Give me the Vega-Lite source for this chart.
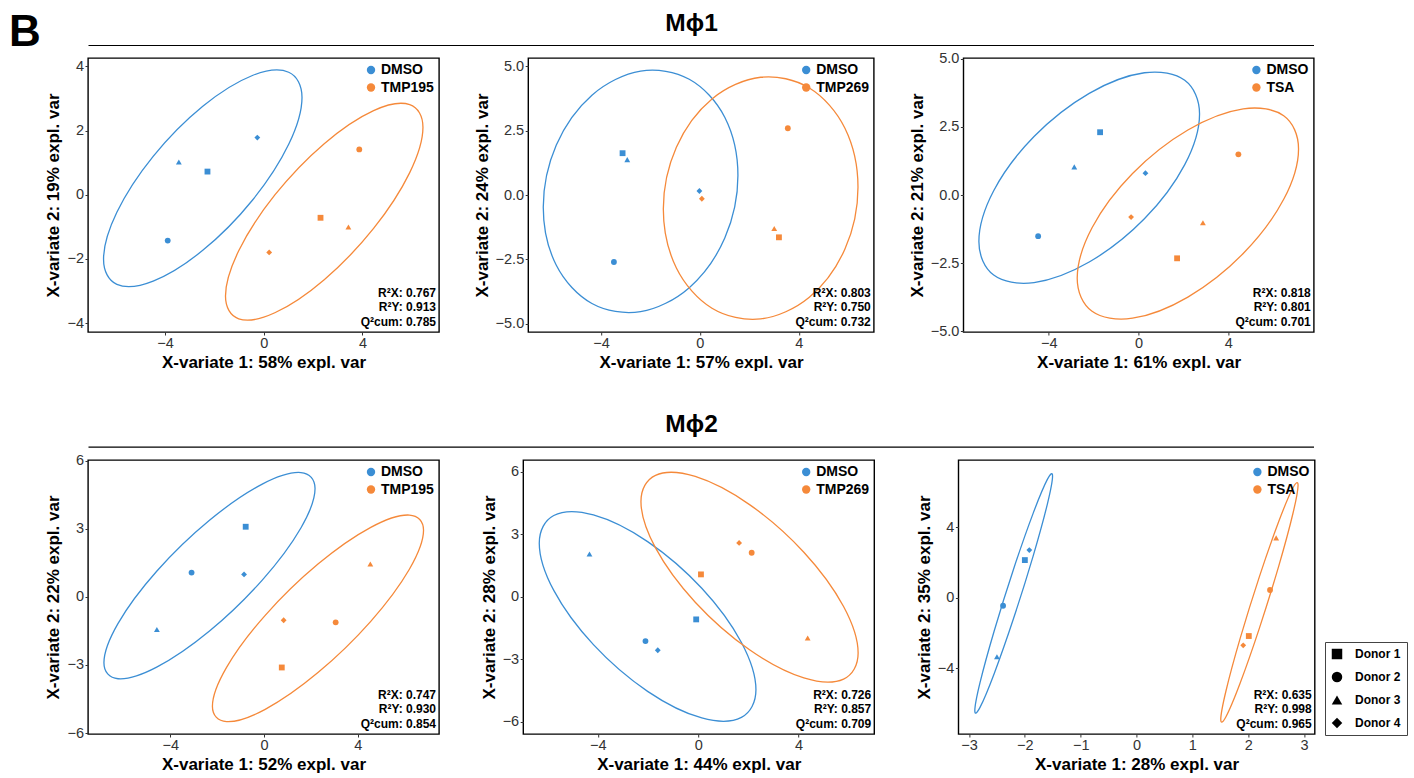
{
  "$schema": "https://vega.github.io/schema/vega-lite/v6.json",
  "background": "white",
  "padding": {"left": 8, "top": 10, "right": 6, "bottom": 2},
  "spacing": -7,
  "config": {
    "font": "Liberation Sans",
    "view": {"stroke": "black", "strokeWidth": 1.4},
    "axis": {"grid": false, "domain": false, "ticks": true, "tickSize": 3, "tickColor": "#333", "tickWidth": 1, "labelFont": "Liberation Sans", "labelFontSize": 14.5, "labelColor": "#333", "labelPadding": 1.5, "labelFlush": false, "titleFont": "Liberation Sans", "titleFontSize": 17, "titleFontWeight": "bold", "titleColor": "black", "titlePadding": 4},
    "legend": {"labelFont": "Liberation Sans", "labelColor": "black"},
    "text": {"font": "Liberation Sans", "color": "black"}
  },
  "resolve": {"scale": {"x": "independent", "y": "independent", "color": "independent", "shape": "independent"}, "legend": {"color": "independent", "shape": "independent"}},
  "datasets": {
    "pts": [
      {"panel": 1, "group": "DMSO", "donor": "Donor 1", "x": -2.28, "y": 0.72},
      {"panel": 1, "group": "DMSO", "donor": "Donor 2", "x": -3.89, "y": -1.43},
      {"panel": 1, "group": "DMSO", "donor": "Donor 3", "x": -3.44, "y": 1.02},
      {"panel": 1, "group": "DMSO", "donor": "Donor 4", "x": -0.26, "y": 1.78},
      {"panel": 1, "group": "TMP195", "donor": "Donor 1", "x": 2.30, "y": -0.72},
      {"panel": 1, "group": "TMP195", "donor": "Donor 2", "x": 3.87, "y": 1.41},
      {"panel": 1, "group": "TMP195", "donor": "Donor 3", "x": 3.43, "y": -1.01},
      {"panel": 1, "group": "TMP195", "donor": "Donor 4", "x": 0.22, "y": -1.80},
      {"panel": 2, "group": "DMSO", "donor": "Donor 1", "x": -3.13, "y": 1.63},
      {"panel": 2, "group": "DMSO", "donor": "Donor 2", "x": -3.48, "y": -2.60},
      {"panel": 2, "group": "DMSO", "donor": "Donor 3", "x": -2.94, "y": 1.38},
      {"panel": 2, "group": "DMSO", "donor": "Donor 4", "x": -0.02, "y": 0.16},
      {"panel": 2, "group": "TMP269", "donor": "Donor 1", "x": 3.20, "y": -1.64},
      {"panel": 2, "group": "TMP269", "donor": "Donor 2", "x": 3.56, "y": 2.60},
      {"panel": 2, "group": "TMP269", "donor": "Donor 3", "x": 3.01, "y": -1.30},
      {"panel": 2, "group": "TMP269", "donor": "Donor 4", "x": 0.08, "y": -0.14},
      {"panel": 3, "group": "DMSO", "donor": "Donor 1", "x": -1.71, "y": 2.30},
      {"panel": 3, "group": "DMSO", "donor": "Donor 2", "x": -4.47, "y": -1.51},
      {"panel": 3, "group": "DMSO", "donor": "Donor 3", "x": -2.86, "y": 1.03},
      {"panel": 3, "group": "DMSO", "donor": "Donor 4", "x": 0.31, "y": 0.80},
      {"panel": 3, "group": "TSA", "donor": "Donor 1", "x": 1.72, "y": -2.32},
      {"panel": 3, "group": "TSA", "donor": "Donor 2", "x": 4.45, "y": 1.49},
      {"panel": 3, "group": "TSA", "donor": "Donor 3", "x": 2.87, "y": -1.02},
      {"panel": 3, "group": "TSA", "donor": "Donor 4", "x": -0.33, "y": -0.81},
      {"panel": 4, "group": "DMSO", "donor": "Donor 1", "x": -0.78, "y": 3.09},
      {"panel": 4, "group": "DMSO", "donor": "Donor 2", "x": -3.09, "y": 1.07},
      {"panel": 4, "group": "DMSO", "donor": "Donor 3", "x": -4.57, "y": -1.44},
      {"panel": 4, "group": "DMSO", "donor": "Donor 4", "x": -0.85, "y": 0.99},
      {"panel": 4, "group": "TMP195", "donor": "Donor 1", "x": 0.76, "y": -3.11},
      {"panel": 4, "group": "TMP195", "donor": "Donor 2", "x": 3.06, "y": -1.12},
      {"panel": 4, "group": "TMP195", "donor": "Donor 3", "x": 4.54, "y": 1.45},
      {"panel": 4, "group": "TMP195", "donor": "Donor 4", "x": 0.84, "y": -1.03},
      {"panel": 5, "group": "DMSO", "donor": "Donor 1", "x": -0.08, "y": -1.09},
      {"panel": 5, "group": "DMSO", "donor": "Donor 2", "x": -2.10, "y": -2.13},
      {"panel": 5, "group": "DMSO", "donor": "Donor 3", "x": -4.33, "y": 2.05},
      {"panel": 5, "group": "DMSO", "donor": "Donor 4", "x": -1.61, "y": -2.57},
      {"panel": 5, "group": "TMP269", "donor": "Donor 1", "x": 0.11, "y": 1.07},
      {"panel": 5, "group": "TMP269", "donor": "Donor 2", "x": 2.13, "y": 2.11},
      {"panel": 5, "group": "TMP269", "donor": "Donor 3", "x": 4.36, "y": -1.98},
      {"panel": 5, "group": "TMP269", "donor": "Donor 4", "x": 1.63, "y": 2.58},
      {"panel": 6, "group": "DMSO", "donor": "Donor 1", "x": -2.00, "y": 2.14},
      {"panel": 6, "group": "DMSO", "donor": "Donor 2", "x": -2.39, "y": -0.45},
      {"panel": 6, "group": "DMSO", "donor": "Donor 3", "x": -2.50, "y": -3.35},
      {"panel": 6, "group": "DMSO", "donor": "Donor 4", "x": -1.92, "y": 2.71},
      {"panel": 6, "group": "TSA", "donor": "Donor 1", "x": 2.01, "y": -2.17},
      {"panel": 6, "group": "TSA", "donor": "Donor 2", "x": 2.39, "y": 0.44},
      {"panel": 6, "group": "TSA", "donor": "Donor 3", "x": 2.50, "y": 3.40},
      {"panel": 6, "group": "TSA", "donor": "Donor 4", "x": 1.91, "y": -2.70}
    ],
    "ell": [
      {"panel": 1, "group": "DMSO", "i": 0, "x": 1.55, "y": 3.03},
      {"panel": 1, "group": "DMSO", "i": 1, "x": 1.011, "y": 3.815},
      {"panel": 1, "group": "DMSO", "i": 2, "x": -0.46, "y": 3.714},
      {"panel": 1, "group": "DMSO", "i": 3, "x": -2.47, "y": 2.755},
      {"panel": 1, "group": "DMSO", "i": 4, "x": -4.48, "y": 1.194},
      {"panel": 1, "group": "DMSO", "i": 5, "x": -5.951, "y": -0.55},
      {"panel": 1, "group": "DMSO", "i": 6, "x": -6.49, "y": -2.01},
      {"panel": 1, "group": "DMSO", "i": 7, "x": -5.951, "y": -2.795},
      {"panel": 1, "group": "DMSO", "i": 8, "x": -4.48, "y": -2.694},
      {"panel": 1, "group": "DMSO", "i": 9, "x": -2.47, "y": -1.735},
      {"panel": 1, "group": "DMSO", "i": 10, "x": -0.46, "y": -0.174},
      {"panel": 1, "group": "DMSO", "i": 11, "x": 1.011, "y": 1.57},
      {"panel": 1, "group": "TMP195", "i": 0, "x": 6.45, "y": 2.10},
      {"panel": 1, "group": "TMP195", "i": 1, "x": 5.914, "y": 2.808},
      {"panel": 1, "group": "TMP195", "i": 2, "x": 4.45, "y": 2.621},
      {"panel": 1, "group": "TMP195", "i": 3, "x": 2.45, "y": 1.59},
      {"panel": 1, "group": "TMP195", "i": 4, "x": 0.45, "y": -0.009},
      {"panel": 1, "group": "TMP195", "i": 5, "x": -1.014, "y": -1.748},
      {"panel": 1, "group": "TMP195", "i": 6, "x": -1.55, "y": -3.16},
      {"panel": 1, "group": "TMP195", "i": 7, "x": -1.014, "y": -3.868},
      {"panel": 1, "group": "TMP195", "i": 8, "x": 0.45, "y": -3.681},
      {"panel": 1, "group": "TMP195", "i": 9, "x": 2.45, "y": -2.65},
      {"panel": 1, "group": "TMP195", "i": 10, "x": 4.45, "y": -1.051},
      {"panel": 1, "group": "TMP195", "i": 11, "x": 5.914, "y": 0.688},
      {"panel": 2, "group": "DMSO", "i": 0, "x": 1.54, "y": 0.76},
      {"panel": 2, "group": "DMSO", "i": 1, "x": 1.012, "y": 3.016},
      {"panel": 2, "group": "DMSO", "i": 2, "x": -0.43, "y": 4.502},
      {"panel": 2, "group": "DMSO", "i": 3, "x": -2.40, "y": 4.82},
      {"panel": 2, "group": "DMSO", "i": 4, "x": -4.37, "y": 3.886},
      {"panel": 2, "group": "DMSO", "i": 5, "x": -5.812, "y": 1.95},
      {"panel": 2, "group": "DMSO", "i": 6, "x": -6.34, "y": -0.47},
      {"panel": 2, "group": "DMSO", "i": 7, "x": -5.812, "y": -2.726},
      {"panel": 2, "group": "DMSO", "i": 8, "x": -4.37, "y": -4.212},
      {"panel": 2, "group": "DMSO", "i": 9, "x": -2.40, "y": -4.53},
      {"panel": 2, "group": "DMSO", "i": 10, "x": -0.43, "y": -3.596},
      {"panel": 2, "group": "DMSO", "i": 11, "x": 1.012, "y": -1.66},
      {"panel": 2, "group": "TMP269", "i": 0, "x": 6.40, "y": 0.31},
      {"panel": 2, "group": "TMP269", "i": 1, "x": 5.872, "y": 2.601},
      {"panel": 2, "group": "TMP269", "i": 2, "x": 4.43, "y": 4.165},
      {"panel": 2, "group": "TMP269", "i": 3, "x": 2.46, "y": 4.581},
      {"panel": 2, "group": "TMP269", "i": 4, "x": 0.49, "y": 3.74},
      {"panel": 2, "group": "TMP269", "i": 5, "x": -0.952, "y": 1.865},
      {"panel": 2, "group": "TMP269", "i": 6, "x": -1.48, "y": -0.54},
      {"panel": 2, "group": "TMP269", "i": 7, "x": -0.952, "y": -2.831},
      {"panel": 2, "group": "TMP269", "i": 8, "x": 0.49, "y": -4.395},
      {"panel": 2, "group": "TMP269", "i": 9, "x": 2.46, "y": -4.811},
      {"panel": 2, "group": "TMP269", "i": 10, "x": 4.43, "y": -3.97},
      {"panel": 2, "group": "TMP269", "i": 11, "x": 5.872, "y": -2.095},
      {"panel": 3, "group": "DMSO", "i": 0, "x": 2.72, "y": 2.97},
      {"panel": 3, "group": "DMSO", "i": 1, "x": 2.061, "y": 4.202},
      {"panel": 3, "group": "DMSO", "i": 2, "x": 0.263, "y": 4.479},
      {"panel": 3, "group": "DMSO", "i": 3, "x": -2.195, "y": 3.725},
      {"panel": 3, "group": "DMSO", "i": 4, "x": -4.653, "y": 2.143},
      {"panel": 3, "group": "DMSO", "i": 5, "x": -6.451, "y": 0.158},
      {"panel": 3, "group": "DMSO", "i": 6, "x": -7.11, "y": -1.70},
      {"panel": 3, "group": "DMSO", "i": 7, "x": -6.451, "y": -2.932},
      {"panel": 3, "group": "DMSO", "i": 8, "x": -4.653, "y": -3.209},
      {"panel": 3, "group": "DMSO", "i": 9, "x": -2.195, "y": -2.455},
      {"panel": 3, "group": "DMSO", "i": 10, "x": 0.263, "y": -0.873},
      {"panel": 3, "group": "DMSO", "i": 11, "x": 2.061, "y": 1.112},
      {"panel": 3, "group": "TSA", "i": 0, "x": 7.13, "y": 1.69},
      {"panel": 3, "group": "TSA", "i": 1, "x": 6.469, "y": 2.902},
      {"panel": 3, "group": "TSA", "i": 2, "x": 4.665, "y": 3.155},
      {"panel": 3, "group": "TSA", "i": 3, "x": 2.20, "y": 2.38},
      {"panel": 3, "group": "TSA", "i": 4, "x": -0.265, "y": 0.785},
      {"panel": 3, "group": "TSA", "i": 5, "x": -2.069, "y": -1.202},
      {"panel": 3, "group": "TSA", "i": 6, "x": -2.73, "y": -3.05},
      {"panel": 3, "group": "TSA", "i": 7, "x": -2.069, "y": -4.262},
      {"panel": 3, "group": "TSA", "i": 8, "x": -0.265, "y": -4.515},
      {"panel": 3, "group": "TSA", "i": 9, "x": 2.20, "y": -3.74},
      {"panel": 3, "group": "TSA", "i": 10, "x": 4.665, "y": -2.145},
      {"panel": 3, "group": "TSA", "i": 11, "x": 6.469, "y": -0.158},
      {"panel": 4, "group": "DMSO", "i": 0, "x": 2.18, "y": 4.77},
      {"panel": 4, "group": "DMSO", "i": 1, "x": 1.576, "y": 5.476},
      {"panel": 4, "group": "DMSO", "i": 2, "x": -0.073, "y": 4.966},
      {"panel": 4, "group": "DMSO", "i": 3, "x": -2.325, "y": 3.375},
      {"panel": 4, "group": "DMSO", "i": 4, "x": -4.578, "y": 1.13},
      {"panel": 4, "group": "DMSO", "i": 5, "x": -6.226, "y": -1.166},
      {"panel": 4, "group": "DMSO", "i": 6, "x": -6.83, "y": -2.90},
      {"panel": 4, "group": "DMSO", "i": 7, "x": -6.226, "y": -3.606},
      {"panel": 4, "group": "DMSO", "i": 8, "x": -4.578, "y": -3.096},
      {"panel": 4, "group": "DMSO", "i": 9, "x": -2.325, "y": -1.505},
      {"panel": 4, "group": "DMSO", "i": 10, "x": -0.073, "y": 0.74},
      {"panel": 4, "group": "DMSO", "i": 11, "x": 1.576, "y": 3.036},
      {"panel": 4, "group": "TMP195", "i": 0, "x": 6.81, "y": 2.93},
      {"panel": 4, "group": "TMP195", "i": 1, "x": 6.206, "y": 3.606},
      {"panel": 4, "group": "TMP195", "i": 2, "x": 4.558, "y": 3.063},
      {"panel": 4, "group": "TMP195", "i": 3, "x": 2.305, "y": 1.445},
      {"panel": 4, "group": "TMP195", "i": 4, "x": 0.053, "y": -0.813},
      {"panel": 4, "group": "TMP195", "i": 5, "x": -1.596, "y": -3.106},
      {"panel": 4, "group": "TMP195", "i": 6, "x": -2.20, "y": -4.82},
      {"panel": 4, "group": "TMP195", "i": 7, "x": -1.596, "y": -5.496},
      {"panel": 4, "group": "TMP195", "i": 8, "x": 0.053, "y": -4.953},
      {"panel": 4, "group": "TMP195", "i": 9, "x": 2.305, "y": -3.335},
      {"panel": 4, "group": "TMP195", "i": 10, "x": 4.558, "y": -1.078},
      {"panel": 4, "group": "TMP195", "i": 11, "x": 6.206, "y": 1.216},
      {"panel": 5, "group": "DMSO", "i": 0, "x": 2.30, "y": -4.47},
      {"panel": 5, "group": "DMSO", "i": 1, "x": 1.722, "y": -2.201},
      {"panel": 5, "group": "DMSO", "i": 2, "x": 0.143, "y": 0.402},
      {"panel": 5, "group": "DMSO", "i": 3, "x": -2.015, "y": 2.643},
      {"panel": 5, "group": "DMSO", "i": 4, "x": -4.173, "y": 3.922},
      {"panel": 5, "group": "DMSO", "i": 5, "x": -5.752, "y": 3.895},
      {"panel": 5, "group": "DMSO", "i": 6, "x": -6.33, "y": 2.57},
      {"panel": 5, "group": "DMSO", "i": 7, "x": -5.752, "y": 0.301},
      {"panel": 5, "group": "DMSO", "i": 8, "x": -4.173, "y": -2.302},
      {"panel": 5, "group": "DMSO", "i": 9, "x": -2.015, "y": -4.543},
      {"panel": 5, "group": "DMSO", "i": 10, "x": 0.143, "y": -5.822},
      {"panel": 5, "group": "DMSO", "i": 11, "x": 1.722, "y": -5.795},
      {"panel": 5, "group": "TMP269", "i": 0, "x": 6.37, "y": -2.70},
      {"panel": 5, "group": "TMP269", "i": 1, "x": 5.79, "y": -0.471},
      {"panel": 5, "group": "TMP269", "i": 2, "x": 4.208, "y": 2.135},
      {"panel": 5, "group": "TMP269", "i": 3, "x": 2.045, "y": 4.419},
      {"panel": 5, "group": "TMP269", "i": 4, "x": -0.118, "y": 5.77},
      {"panel": 5, "group": "TMP269", "i": 5, "x": -1.70, "y": 5.825},
      {"panel": 5, "group": "TMP269", "i": 6, "x": -2.28, "y": 4.57},
      {"panel": 5, "group": "TMP269", "i": 7, "x": -1.70, "y": 2.341},
      {"panel": 5, "group": "TMP269", "i": 8, "x": -0.118, "y": -0.265},
      {"panel": 5, "group": "TMP269", "i": 9, "x": 2.045, "y": -2.549},
      {"panel": 5, "group": "TMP269", "i": 10, "x": 4.208, "y": -3.90},
      {"panel": 5, "group": "TMP269", "i": 11, "x": 5.79, "y": -3.955},
      {"panel": 6, "group": "DMSO", "i": 0, "x": -1.504, "y": 6.91},
      {"panel": 6, "group": "DMSO", "i": 1, "x": -1.597, "y": 6.718},
      {"panel": 6, "group": "DMSO", "i": 2, "x": -1.852, "y": 4.792},
      {"panel": 6, "group": "DMSO", "i": 3, "x": -2.20, "y": 1.65},
      {"panel": 6, "group": "DMSO", "i": 4, "x": -2.548, "y": -1.868},
      {"panel": 6, "group": "DMSO", "i": 5, "x": -2.803, "y": -4.818},
      {"panel": 6, "group": "DMSO", "i": 6, "x": -2.896, "y": -6.41},
      {"panel": 6, "group": "DMSO", "i": 7, "x": -2.803, "y": -6.218},
      {"panel": 6, "group": "DMSO", "i": 8, "x": -2.548, "y": -4.292},
      {"panel": 6, "group": "DMSO", "i": 9, "x": -2.20, "y": -1.15},
      {"panel": 6, "group": "DMSO", "i": 10, "x": -1.852, "y": 2.368},
      {"panel": 6, "group": "DMSO", "i": 11, "x": -1.597, "y": 5.318},
      {"panel": 6, "group": "TSA", "i": 0, "x": 2.892, "y": 6.39},
      {"panel": 6, "group": "TSA", "i": 1, "x": 2.799, "y": 6.229},
      {"panel": 6, "group": "TSA", "i": 2, "x": 2.546, "y": 4.329},
      {"panel": 6, "group": "TSA", "i": 3, "x": 2.20, "y": 1.20},
      {"panel": 6, "group": "TSA", "i": 4, "x": 1.854, "y": -2.321},
      {"panel": 6, "group": "TSA", "i": 5, "x": 1.601, "y": -5.289},
      {"panel": 6, "group": "TSA", "i": 6, "x": 1.508, "y": -6.91},
      {"panel": 6, "group": "TSA", "i": 7, "x": 1.601, "y": -6.749},
      {"panel": 6, "group": "TSA", "i": 8, "x": 1.854, "y": -4.849},
      {"panel": 6, "group": "TSA", "i": 9, "x": 2.20, "y": -1.72},
      {"panel": 6, "group": "TSA", "i": 10, "x": 2.546, "y": 1.801},
      {"panel": 6, "group": "TSA", "i": 11, "x": 2.799, "y": 4.769}
    ],
    "stats": [
      {"panel": 1, "lines": ["R²X: 0.767", "R²Y: 0.913", "Q²cum: 0.785"]},
      {"panel": 2, "lines": ["R²X: 0.803", "R²Y: 0.750", "Q²cum: 0.732"]},
      {"panel": 3, "lines": ["R²X: 0.818", "R²Y: 0.801", "Q²cum: 0.701"]},
      {"panel": 4, "lines": ["R²X: 0.747", "R²Y: 0.930", "Q²cum: 0.854"]},
      {"panel": 5, "lines": ["R²X: 0.726", "R²Y: 0.857", "Q²cum: 0.709"]},
      {"panel": 6, "lines": ["R²X: 0.635", "R²Y: 0.998", "Q²cum: 0.965"]}
    ]
  },
  "vconcat": [
    {
      "width": 1225.5, "height": 12, "view": {"stroke": null},
      "data": {"values": [{"t": "Mϕ1"}]},
      "layer": [
        {"mark": {"type": "text", "baseline": "alphabetic", "dy": -25.5, "fontSize": 24.5, "fontWeight": "bold"},
         "encoding": {"x": {"datum": 0.4925, "type": "quantitative", "scale": {"domain": [0, 1]}, "axis": {"orient": "bottom", "offset": -11, "domain": true, "domainColor": "black", "domainWidth": 1.2, "ticks": false, "labels": false, "title": null}},
                      "y": {"datum": 0, "type": "quantitative", "scale": {"domain": [0, 1]}, "axis": null},
                      "text": {"field": "t", "type": "nominal"}}},
        {"mark": {"type": "text", "baseline": "alphabetic", "align": "left", "dy": -10, "fontSize": 44, "fontWeight": "bold"},
         "encoding": {"x": {"datum": -0.0645, "type": "quantitative", "scale": {"domain": [0, 1]}},
                      "y": {"datum": 0, "type": "quantitative", "scale": {"domain": [0, 1]}},
                      "text": {"value": "B"}}}
      ]
    },
    {
      "hconcat": [
        {
          "width": 351, "height": 274,
          "layer": [
            {"data": {"name": "pts"}, "transform": [{"filter": "datum.panel === 1"}],
             "mark": {"type": "point", "filled": true, "opacity": 1, "size": 34},
             "encoding": {
               "x": {"field": "x", "type": "quantitative", "scale": {"domain": [-7.12, 7.1], "nice": false, "zero": false}, "axis": {"values": [-4, 0, 4], "format": "d", "title": "X-variate 1: 58% expl. var"}},
               "y": {"field": "y", "type": "quantitative", "scale": {"domain": [-4.28, 4.26], "nice": false, "zero": false}, "axis": {"values": [-4, -2, 0, 2, 4], "format": "d", "title": "X-variate 2: 19% expl. var"}},
               "color": {"field": "group", "type": "nominal", "scale": {"domain": ["DMSO", "TMP195"], "range": ["#3B8ED4", "#F5893A"]}, "legend": {"orient": "top-right", "title": null, "offset": 3, "padding": 2, "symbolType": "circle", "symbolSize": 70, "symbolStrokeWidth": 0, "labelFontSize": 14, "labelFontWeight": "bold", "labelOffset": 3, "rowPadding": 3.5}},
               "shape": {"field": "donor", "type": "nominal", "scale": {"domain": ["Donor 1", "Donor 2", "Donor 3", "Donor 4"], "range": ["square", "circle", "triangle-up", "diamond"]}, "legend": null}
             }},
            {"data": {"name": "ell"}, "transform": [{"filter": "datum.panel === 1"}],
             "mark": {"type": "line", "interpolate": "cardinal-closed", "strokeWidth": 1.3},
             "encoding": {
               "x": {"field": "x", "type": "quantitative", "scale": {"domain": [-7.12, 7.1], "nice": false, "zero": false}},
               "y": {"field": "y", "type": "quantitative", "scale": {"domain": [-4.28, 4.26], "nice": false, "zero": false}},
               "color": {"field": "group", "type": "nominal", "legend": null},
               "order": {"field": "i", "type": "quantitative"}
             }},
            {"data": {"name": "stats"}, "transform": [{"filter": "datum.panel === 1"}],
             "mark": {"type": "text", "align": "right", "baseline": "bottom", "dx": -3, "dy": -32.4, "fontSize": 12, "fontWeight": "bold", "lineHeight": 14.7},
             "encoding": {"x": {"datum": 7.1, "type": "quantitative"}, "y": {"datum": -4.28, "type": "quantitative"}, "text": {"field": "lines", "type": "nominal"}}}
          ]
        },
        {
          "width": 345.6, "height": 274,
          "layer": [
            {"data": {"name": "pts"}, "transform": [{"filter": "datum.panel === 2"}],
             "mark": {"type": "point", "filled": true, "opacity": 1, "size": 34},
             "encoding": {
               "x": {"field": "x", "type": "quantitative", "scale": {"domain": [-6.95, 7.04], "nice": false, "zero": false}, "axis": {"values": [-4, 0, 4], "format": "d", "title": "X-variate 1: 57% expl. var"}},
               "y": {"field": "y", "type": "quantitative", "scale": {"domain": [-5.32, 5.33], "nice": false, "zero": false}, "axis": {"values": [-5, -2.5, 0, 2.5, 5], "format": ".1f", "title": "X-variate 2: 24% expl. var"}},
               "color": {"field": "group", "type": "nominal", "scale": {"domain": ["DMSO", "TMP269"], "range": ["#3B8ED4", "#F5893A"]}, "legend": {"orient": "top-right", "title": null, "offset": 3, "padding": 2, "symbolType": "circle", "symbolSize": 70, "symbolStrokeWidth": 0, "labelFontSize": 14, "labelFontWeight": "bold", "labelOffset": 3, "rowPadding": 3.5}},
               "shape": {"field": "donor", "type": "nominal", "scale": {"domain": ["Donor 1", "Donor 2", "Donor 3", "Donor 4"], "range": ["square", "circle", "triangle-up", "diamond"]}, "legend": null}
             }},
            {"data": {"name": "ell"}, "transform": [{"filter": "datum.panel === 2"}],
             "mark": {"type": "line", "interpolate": "cardinal-closed", "strokeWidth": 1.3},
             "encoding": {
               "x": {"field": "x", "type": "quantitative", "scale": {"domain": [-6.95, 7.04], "nice": false, "zero": false}},
               "y": {"field": "y", "type": "quantitative", "scale": {"domain": [-5.32, 5.33], "nice": false, "zero": false}},
               "color": {"field": "group", "type": "nominal", "legend": null},
               "order": {"field": "i", "type": "quantitative"}
             }},
            {"data": {"name": "stats"}, "transform": [{"filter": "datum.panel === 2"}],
             "mark": {"type": "text", "align": "right", "baseline": "bottom", "dx": -3, "dy": -32.4, "fontSize": 12, "fontWeight": "bold", "lineHeight": 14.7},
             "encoding": {"x": {"datum": 7.04, "type": "quantitative"}, "y": {"datum": -5.32, "type": "quantitative"}, "text": {"field": "lines", "type": "nominal"}}}
          ]
        },
        {
          "width": 350.4, "height": 274,
          "layer": [
            {"data": {"name": "pts"}, "transform": [{"filter": "datum.panel === 3"}],
             "mark": {"type": "point", "filled": true, "opacity": 1, "size": 34},
             "encoding": {
               "x": {"field": "x", "type": "quantitative", "scale": {"domain": [-7.8, 7.81], "nice": false, "zero": false}, "axis": {"values": [-4, 0, 4], "format": "d", "title": "X-variate 1: 61% expl. var"}},
               "y": {"field": "y", "type": "quantitative", "scale": {"domain": [-5.02, 5.02], "nice": false, "zero": false}, "axis": {"values": [-5, -2.5, 0, 2.5, 5], "format": ".1f", "title": "X-variate 2: 21% expl. var"}},
               "color": {"field": "group", "type": "nominal", "scale": {"domain": ["DMSO", "TSA"], "range": ["#3B8ED4", "#F5893A"]}, "legend": {"orient": "top-right", "title": null, "offset": 3, "padding": 2, "symbolType": "circle", "symbolSize": 70, "symbolStrokeWidth": 0, "labelFontSize": 14, "labelFontWeight": "bold", "labelOffset": 3, "rowPadding": 3.5}},
               "shape": {"field": "donor", "type": "nominal", "scale": {"domain": ["Donor 1", "Donor 2", "Donor 3", "Donor 4"], "range": ["square", "circle", "triangle-up", "diamond"]}, "legend": null}
             }},
            {"data": {"name": "ell"}, "transform": [{"filter": "datum.panel === 3"}],
             "mark": {"type": "line", "interpolate": "cardinal-closed", "strokeWidth": 1.3},
             "encoding": {
               "x": {"field": "x", "type": "quantitative", "scale": {"domain": [-7.8, 7.81], "nice": false, "zero": false}},
               "y": {"field": "y", "type": "quantitative", "scale": {"domain": [-5.02, 5.02], "nice": false, "zero": false}},
               "color": {"field": "group", "type": "nominal", "legend": null},
               "order": {"field": "i", "type": "quantitative"}
             }},
            {"data": {"name": "stats"}, "transform": [{"filter": "datum.panel === 3"}],
             "mark": {"type": "text", "align": "right", "baseline": "bottom", "dx": -3, "dy": -32.4, "fontSize": 12, "fontWeight": "bold", "lineHeight": 14.7},
             "encoding": {"x": {"datum": 7.81, "type": "quantitative"}, "y": {"datum": -5.02, "type": "quantitative"}, "text": {"field": "lines", "type": "nominal"}}}
          ]
        }
      ],
      "spacing": 89.2,
      "bounds": "flush",
      "resolve": {"scale": {"x": "independent", "y": "independent", "color": "independent", "shape": "independent"}, "legend": {"color": "independent", "shape": "independent"}}
    },
    {
      "width": 1225.5, "height": 86.7, "view": {"stroke": null},
      "data": {"values": [{"t": "Mϕ2"}]},
      "layer": [
        {"mark": {"type": "text", "baseline": "alphabetic", "dy": -25.5, "fontSize": 24.5, "fontWeight": "bold"},
         "encoding": {"x": {"datum": 0.4925, "type": "quantitative", "scale": {"domain": [0, 1]}, "axis": {"orient": "bottom", "offset": -11, "domain": true, "domainColor": "black", "domainWidth": 1.2, "ticks": false, "labels": false, "title": null}},
                      "y": {"datum": 0, "type": "quantitative", "scale": {"domain": [0, 1]}, "axis": null},
                      "text": {"field": "t", "type": "nominal"}}}
      ]
    },
    {
      "hconcat": [
        {
          "width": 351, "height": 274,
          "layer": [
            {"data": {"name": "pts"}, "transform": [{"filter": "datum.panel === 4"}],
             "mark": {"type": "point", "filled": true, "opacity": 1, "size": 34},
             "encoding": {
               "x": {"field": "x", "type": "quantitative", "scale": {"domain": [-7.51, 7.47], "nice": false, "zero": false}, "axis": {"values": [-4, 0, 4], "format": "d", "title": "X-variate 1: 52% expl. var"}},
               "y": {"field": "y", "type": "quantitative", "scale": {"domain": [-6.04, 6.03], "nice": false, "zero": false}, "axis": {"values": [-6, -3, 0, 3, 6], "format": "d", "title": "X-variate 2: 22% expl. var"}},
               "color": {"field": "group", "type": "nominal", "scale": {"domain": ["DMSO", "TMP195"], "range": ["#3B8ED4", "#F5893A"]}, "legend": {"orient": "top-right", "title": null, "offset": 3, "padding": 2, "symbolType": "circle", "symbolSize": 70, "symbolStrokeWidth": 0, "labelFontSize": 14, "labelFontWeight": "bold", "labelOffset": 3, "rowPadding": 3.5}},
               "shape": {"field": "donor", "type": "nominal", "scale": {"domain": ["Donor 1", "Donor 2", "Donor 3", "Donor 4"], "range": ["square", "circle", "triangle-up", "diamond"]}, "legend": null}
             }},
            {"data": {"name": "ell"}, "transform": [{"filter": "datum.panel === 4"}],
             "mark": {"type": "line", "interpolate": "cardinal-closed", "strokeWidth": 1.3},
             "encoding": {
               "x": {"field": "x", "type": "quantitative", "scale": {"domain": [-7.51, 7.47], "nice": false, "zero": false}},
               "y": {"field": "y", "type": "quantitative", "scale": {"domain": [-6.04, 6.03], "nice": false, "zero": false}},
               "color": {"field": "group", "type": "nominal", "legend": null},
               "order": {"field": "i", "type": "quantitative"}
             }},
            {"data": {"name": "stats"}, "transform": [{"filter": "datum.panel === 4"}],
             "mark": {"type": "text", "align": "right", "baseline": "bottom", "dx": -3, "dy": -32.4, "fontSize": 12, "fontWeight": "bold", "lineHeight": 14.7},
             "encoding": {"x": {"datum": 7.47, "type": "quantitative"}, "y": {"datum": -6.04, "type": "quantitative"}, "text": {"field": "lines", "type": "nominal"}}}
          ]
        },
        {
          "width": 351, "height": 274,
          "layer": [
            {"data": {"name": "pts"}, "transform": [{"filter": "datum.panel === 5"}],
             "mark": {"type": "point", "filled": true, "opacity": 1, "size": 34},
             "encoding": {
               "x": {"field": "x", "type": "quantitative", "scale": {"domain": [-6.97, 7.01], "nice": false, "zero": false}, "axis": {"values": [-4, 0, 4], "format": "d", "title": "X-variate 1: 44% expl. var"}},
               "y": {"field": "y", "type": "quantitative", "scale": {"domain": [-6.59, 6.56], "nice": false, "zero": false}, "axis": {"values": [-6, -3, 0, 3, 6], "format": "d", "title": "X-variate 2: 28% expl. var"}},
               "color": {"field": "group", "type": "nominal", "scale": {"domain": ["DMSO", "TMP269"], "range": ["#3B8ED4", "#F5893A"]}, "legend": {"orient": "top-right", "title": null, "offset": 3, "padding": 2, "symbolType": "circle", "symbolSize": 70, "symbolStrokeWidth": 0, "labelFontSize": 14, "labelFontWeight": "bold", "labelOffset": 3, "rowPadding": 3.5}},
               "shape": {"field": "donor", "type": "nominal", "scale": {"domain": ["Donor 1", "Donor 2", "Donor 3", "Donor 4"], "range": ["square", "circle", "triangle-up", "diamond"]}, "legend": null}
             }},
            {"data": {"name": "ell"}, "transform": [{"filter": "datum.panel === 5"}],
             "mark": {"type": "line", "interpolate": "cardinal-closed", "strokeWidth": 1.3},
             "encoding": {
               "x": {"field": "x", "type": "quantitative", "scale": {"domain": [-6.97, 7.01], "nice": false, "zero": false}},
               "y": {"field": "y", "type": "quantitative", "scale": {"domain": [-6.59, 6.56], "nice": false, "zero": false}},
               "color": {"field": "group", "type": "nominal", "legend": null},
               "order": {"field": "i", "type": "quantitative"}
             }},
            {"data": {"name": "stats"}, "transform": [{"filter": "datum.panel === 5"}],
             "mark": {"type": "text", "align": "right", "baseline": "bottom", "dx": -3, "dy": -32.4, "fontSize": 12, "fontWeight": "bold", "lineHeight": 14.7},
             "encoding": {"x": {"datum": 7.01, "type": "quantitative"}, "y": {"datum": -6.59, "type": "quantitative"}, "text": {"field": "lines", "type": "nominal"}}}
          ]
        },
        {
          "width": 356.3, "height": 274,
          "layer": [
            {"data": {"name": "pts"}, "transform": [{"filter": "datum.panel === 6"}],
             "mark": {"type": "point", "filled": true, "opacity": 1, "size": 34, "color": "black"},
             "encoding": {
               "x": {"field": "x", "type": "quantitative", "scale": {"domain": [-3.19, 3.19], "nice": false, "zero": false}, "axis": {"values": [-3, -2, -1, 0, 1, 2, 3], "format": "d", "title": "X-variate 1: 28% expl. var"}},
               "y": {"field": "y", "type": "quantitative", "scale": {"domain": [-7.73, 7.82], "nice": false, "zero": false}, "axis": {"values": [-4, 0, 4], "format": "d", "title": "X-variate 2: 35% expl. var"}},
               "color": {"field": "group", "type": "nominal", "scale": {"domain": ["DMSO", "TSA"], "range": ["#3B8ED4", "#F5893A"]}, "legend": {"orient": "top-right", "title": null, "offset": 3, "padding": 2, "symbolType": "circle", "symbolSize": 70, "symbolStrokeWidth": 0, "labelFontSize": 14, "labelFontWeight": "bold", "labelOffset": 3, "rowPadding": 3.5}},
               "shape": {"field": "donor", "type": "nominal", "scale": {"domain": ["Donor 1", "Donor 2", "Donor 3", "Donor 4"], "range": ["square", "circle", "triangle-up", "diamond"]}, "legend": {"orient": "none", "legendX": 366.6, "legendY": 182, "title": null, "strokeColor": "#444", "fillColor": "white", "padding": 6, "symbolSize": 110, "symbolFillColor": "black", "symbolStrokeColor": "black", "symbolStrokeWidth": 0, "labelFontSize": 12, "labelFontWeight": "bold", "labelOffset": 12, "rowPadding": 11}}
             }},
            {"data": {"name": "ell"}, "transform": [{"filter": "datum.panel === 6"}],
             "mark": {"type": "line", "interpolate": "cardinal-closed", "strokeWidth": 1.3},
             "encoding": {
               "x": {"field": "x", "type": "quantitative", "scale": {"domain": [-3.19, 3.19], "nice": false, "zero": false}},
               "y": {"field": "y", "type": "quantitative", "scale": {"domain": [-7.73, 7.82], "nice": false, "zero": false}},
               "color": {"field": "group", "type": "nominal", "legend": null},
               "order": {"field": "i", "type": "quantitative"}
             }},
            {"data": {"name": "stats"}, "transform": [{"filter": "datum.panel === 6"}],
             "mark": {"type": "text", "align": "right", "baseline": "bottom", "dx": -3, "dy": -32.4, "fontSize": 12, "fontWeight": "bold", "lineHeight": 14.7},
             "encoding": {"x": {"datum": 3.19, "type": "quantitative"}, "y": {"datum": -7.73, "type": "quantitative"}, "text": {"field": "lines", "type": "nominal"}}}
          ]
        }
      ],
      "spacing": 84.2,
      "bounds": "flush",
      "resolve": {"scale": {"x": "independent", "y": "independent", "color": "independent", "shape": "independent"}, "legend": {"color": "independent", "shape": "independent"}}
    }
  ]
}
